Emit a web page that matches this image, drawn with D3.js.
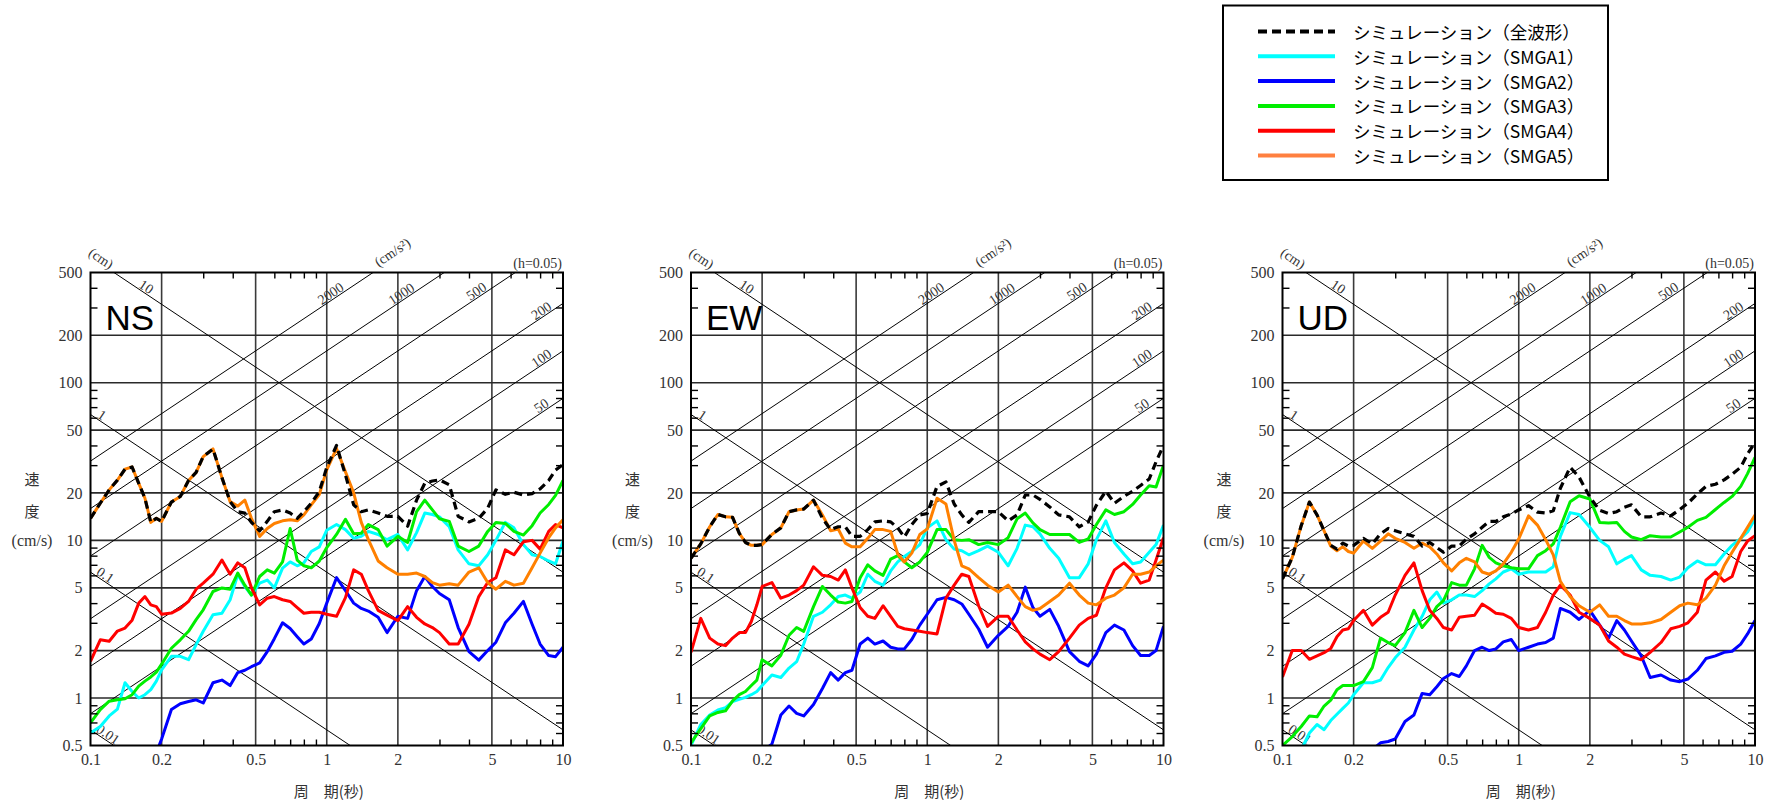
<!DOCTYPE html>
<html><head><meta charset="utf-8">
<script src="https://cdn.jsdelivr.net/npm/d3@7"></script>
<style>body{margin:0;background:#fff;} svg{display:block}</style>
</head><body><svg id="c" width="1773" height="801"></svg>
<script>
// ---------------- DATA ----------------
const periods = [0.10,0.11,0.12,0.13,0.14,0.15,0.16,0.17,0.18,0.19,0.20,
 0.22,0.24,0.26,0.28,0.30,
 0.33,0.36,0.39,0.42,0.45,0.48,
 0.52,0.56,0.60,0.65,0.70,0.75,0.80,0.86,0.93,
 1.0,
 1.1,1.2,1.3,1.4,1.5,
 1.65,1.8,2.0,
 2.2,2.4,2.6,2.8,3.0,
 3.3,3.6,4.0,4.4,4.8,
 5.2,5.7,6.2,6.8,7.4,
 8.0,8.7,9.3,10];

const nsTotal = [13.8,17.2,20.9,24.1,28.3,29.2,23.0,18.5,13.0,13.8,13.2,
 17.5,19.0,24.0,27.0,34.0,
 38.0,25.0,17.6,15.2,14.9,13.0,
 11.5,13.2,15.2,15.6,14.9,13.8,15.2,17.2,20.4,
 29.0,
 40.0,26.0,16.8,15.2,15.6,
 14.9,14.2,14.2,
 12.3,18.0,23.0,23.8,24.2,
 22.5,14.2,13.1,13.8,16.0,
 20.9,19.6,20.2,19.4,19.8,
 21.2,24.0,27.9,30.3];
const nsSMGA1 = [0.60,0.66,0.77,0.85,1.25,1.10,1.00,1.05,1.13,1.28,1.51,
 1.84,1.84,1.75,2.18,2.65,
 3.37,3.45,4.2,6.07,5.1,4.5,
 5.35,5.6,5.0,6.66,7.3,6.9,7.2,8.5,9.1,
 11.6,
 12.6,11.7,10.3,10.6,11.4,
 10.9,10.1,10.9,
 8.7,11.2,14.9,14.6,14.1,
 12.2,8.7,7.1,6.9,8.1,
 10.0,13.0,12.0,9.4,8.1,
 7.9,7.4,7.1,9.9];
const nsSMGA2 = [null,null,null,null,null,null,null,null,null,0.45,0.55,
 0.845,0.92,0.95,0.975,0.93,
 1.25,1.3,1.2,1.45,1.5,1.58,
 1.67,1.97,2.38,3.0,2.76,2.45,2.2,2.37,2.97,
 4.0,
 5.8,4.8,4.0,3.7,3.56,
 3.25,2.6,3.3,
 3.2,4.8,5.9,5.1,4.6,
 4.2,2.8,1.97,1.74,2.0,
 2.26,3.0,3.45,4.1,2.94,
 2.2,1.86,1.83,2.1];
const nsSMGA3 = [0.695,0.845,0.955,0.975,0.99,1.05,1.19,1.28,1.36,1.46,1.64,
 2.07,2.34,2.65,3.14,3.63,
 4.74,4.99,4.9,6.2,5.2,4.5,
 5.9,6.5,6.2,7.3,11.9,7.5,6.9,6.7,7.4,
 9.0,
 10.9,13.6,11.0,11.1,12.6,
 11.7,9.2,10.6,
 9.7,15.2,18.0,15.6,13.7,
 13.2,9.2,8.5,9.2,11.4,
 13.0,12.8,11.4,10.8,12.4,
 14.9,16.9,19.3,24.0];
const nsSMGA4 = [1.71,2.34,2.29,2.66,2.78,3.12,4.0,4.4,3.9,3.8,3.4,
 3.46,3.7,4.1,4.9,5.35,
 6.1,7.5,6.1,7.2,6.7,5.0,
 3.9,4.3,4.4,4.2,4.1,3.75,3.45,3.5,3.5,
 3.4,
 3.3,4.33,6.5,6.1,4.8,
 3.6,3.36,3.1,
 3.8,3.25,2.95,2.8,2.6,
 2.2,2.2,2.94,4.4,5.4,
 5.8,8.7,8.1,9.8,10.0,
 8.8,11.4,12.6,12.0];
const nsSMGA5 = [13.8,17.2,20.9,24.1,28.3,29.2,23.0,18.5,13.0,13.8,13.2,
 17.5,19.0,24.0,27.0,34.0,
 38.0,25.0,17.6,16.5,18.0,13.8,
 10.6,11.9,12.8,13.3,13.5,13.3,14.5,16.8,19.5,
 28.0,
 38.3,27.2,20.0,13.0,10.1,
 7.4,6.7,6.1,
 6.1,6.2,5.9,5.4,5.2,
 5.3,5.2,6.3,6.7,5.4,
 4.9,5.5,5.2,5.35,6.7,
 8.3,10.4,12.0,13.5];

const ewTotal = [7.7,9.5,12.2,14.6,14.1,14.0,11.1,9.7,9.3,9.3,9.4,
 10.9,12.0,15.2,15.6,15.8,
 18.0,13.8,11.7,12.2,12.2,10.6,
 10.6,11.7,13.1,13.3,13.1,12.0,10.5,12.6,14.5,
 14.8,
 22.0,23.5,17.0,14.5,13.0,
 15.2,15.2,15.2,
 13.3,14.5,19.4,19.4,18.2,
 16.3,14.5,14.1,12.2,13.1,
 16.7,20.5,17.2,19.0,20.5,
 22.3,24.5,31.5,40.0];
const ewSMGA1 = [0.50,0.68,0.78,0.84,0.87,0.95,0.98,1.01,1.05,1.10,1.20,
 1.40,1.35,1.55,1.70,2.20,
 3.3,3.5,3.9,4.4,4.5,4.3,
 4.7,6.1,5.5,5.2,6.4,7.3,7.9,8.5,9.4,
 12.0,
 13.3,10.1,8.8,8.6,8.1,
 8.6,9.2,8.4,
 6.9,8.9,12.5,12.2,11.0,
 8.9,7.7,5.8,5.8,7.1,
 10.1,13.3,9.7,8.2,7.1,
 7.3,8.4,9.4,12.5];
const ewSMGA2 = [null,null,null,null,null,null,null,null,null,null,0.46,
 0.51,0.78,0.89,0.80,0.77,
 0.91,1.15,1.45,1.3,1.45,1.5,
 2.2,2.4,2.2,2.3,2.1,2.05,2.05,2.35,2.9,
 3.4,
 4.2,4.35,4.2,3.95,3.4,
 2.74,2.1,2.5,
 2.85,3.5,5.05,3.75,3.3,
 3.65,2.85,1.97,1.71,1.6,
 1.9,2.6,2.9,2.7,2.15,
 1.86,1.86,2.0,2.85];
const ewSMGA3 = [0.52,0.64,0.77,0.81,0.83,0.96,1.05,1.10,1.20,1.30,1.75,
 1.60,1.87,2.50,2.80,2.65,
 3.8,5.1,4.5,4.06,4.0,4.1,
 5.8,7.0,6.4,6.0,7.6,8.0,7.3,6.7,7.3,
 8.4,
 11.7,11.7,10.1,10.0,10.1,
 9.4,9.7,9.4,
 10.4,13.7,14.9,12.9,11.7,
 10.9,10.9,10.9,9.7,10.2,
 12.6,15.6,14.6,15.2,16.9,
 19.4,22.2,21.8,30.0];
const ewSMGA4 = [1.95,3.2,2.4,2.2,2.15,2.4,2.6,2.6,3.06,3.9,5.1,
 5.4,4.3,4.5,4.8,5.2,
 6.8,6.0,5.9,5.6,6.5,5.0,
 3.75,3.3,3.2,3.85,3.3,2.85,2.75,2.7,2.65,
 2.6,
 2.55,4.3,5.2,6.1,5.9,
 3.85,2.85,3.3,
 3.3,2.7,2.27,2.05,1.9,
 1.75,1.97,2.4,2.9,3.2,
 3.35,5.0,6.5,7.2,6.4,
 5.35,5.6,7.5,10.4];
const ewSMGA5 = [7.7,9.5,12.2,14.6,14.1,14.0,11.1,9.7,9.3,9.3,9.4,
 10.9,12.0,15.2,15.6,15.8,
 18.0,14.5,11.5,11.8,9.6,9.1,
 9.1,10.3,11.7,11.7,11.4,8.2,7.3,8.3,10.9,
 11.8,
 18.5,17.0,10.0,6.9,6.6,
 5.8,5.2,4.7,
 5.2,4.4,3.8,3.6,3.7,
 4.1,4.5,5.35,4.5,4.0,
 3.9,4.3,4.5,5.0,6.1,
 6.1,6.3,6.9,7.5];

const udTotal = [5.7,7.8,12.4,17.5,14.5,11.5,9.3,8.8,9.6,9.2,9.3,
 10.3,9.5,11.0,11.9,11.5,
 11.0,10.6,9.2,9.7,9.0,8.4,
 9.2,9.2,10.2,11.0,12.1,13.2,13.2,14.1,14.7,
 15.6,
 16.6,15.1,14.9,15.4,21.4,
 29.1,25.2,18.8,
 15.5,14.8,15.2,16.2,16.8,
 14.1,14.1,14.9,14.3,15.7,
 17.2,19.7,22.0,22.7,24.2,
 26.3,29.1,35.3,41.7];
const udSMGA1 = [null,null,0.47,0.60,0.68,0.63,0.72,0.79,0.86,0.93,1.05,
 1.25,1.25,1.30,1.56,1.80,
 2.1,2.7,3.3,4.2,4.7,4.0,
 4.2,4.5,4.5,4.4,4.8,5.3,5.7,6.3,6.6,
 6.1,
 6.3,6.3,6.3,6.8,10.6,
 15.0,14.6,12.1,
 10.0,9.1,7.1,7.6,8.0,
 6.5,6.0,5.9,5.6,5.85,
 6.7,7.4,7.0,7.0,8.2,
 9.3,10.3,11.3,13.7];
const udSMGA2 = [null,null,null,null,null,null,null,null,null,null,null,
 null,0.47,0.52,0.53,0.55,
 0.71,0.78,1.07,1.05,1.18,1.33,
 1.43,1.37,1.6,2.0,2.1,2.0,2.05,2.27,2.35,
 2.0,
 2.1,2.2,2.25,2.4,3.7,
 3.5,3.15,3.6,
 2.9,2.4,3.1,2.7,2.3,
 1.85,1.35,1.4,1.3,1.27,
 1.32,1.5,1.78,1.85,1.95,
 1.98,2.2,2.55,3.1];
const udSMGA3 = [0.50,0.57,0.66,0.77,0.76,0.89,0.97,1.13,1.20,1.20,1.20,
 1.27,1.56,2.40,2.25,2.15,
 2.6,3.6,2.8,3.2,3.8,4.15,
 5.4,5.2,5.2,6.6,9.3,7.8,7.2,6.9,6.7,
 6.6,
 6.6,8.0,8.6,9.5,12.1,
 17.6,19.2,18.3,
 13.0,12.9,13.0,11.4,10.5,
 10.1,10.7,10.5,10.5,11.3,
 12.1,13.4,14.0,15.7,17.4,
 19.0,22.0,26.5,33.6];
const udSMGA4 = [1.36,2.0,2.0,1.76,1.85,1.94,2.06,2.45,2.7,2.75,3.1,
 3.6,2.9,3.25,3.5,4.5,
 6.0,7.2,4.8,3.6,3.2,2.8,
 2.7,3.25,3.3,3.35,3.95,3.7,3.45,3.4,3.2,
 2.8,
 2.7,2.8,3.5,4.5,5.2,
 4.5,3.5,3.2,
 2.9,2.3,2.1,1.9,1.83,
 1.75,1.95,2.25,2.75,2.85,
 3.0,3.5,5.6,6.3,5.5,
 5.9,8.5,9.9,10.7];
const udSMGA5 = [5.7,7.8,12.4,17.5,14.5,11.5,9.2,8.6,9.1,8.5,8.3,
 9.9,8.9,9.9,11.0,10.3,
 9.7,8.9,9.6,9.1,8.2,7.2,
 6.4,7.2,7.7,7.3,6.3,6.1,6.4,7.1,8.4,
 10.2,
 14.3,12.5,10.1,8.1,5.5,
 4.4,3.85,3.5,
 3.9,3.3,3.3,3.1,2.95,
 2.95,3.0,3.15,3.5,3.85,
 4.0,3.9,4.3,5.2,6.9,
 8.4,10.3,12.1,14.5];

const panelNames = ["NS","EW","UD"];
const seriesNames = ["シミュレーション（全波形）","シミュレーション（SMGA1）","シミュレーション（SMGA2）",
  "シミュレーション（SMGA3）","シミュレーション（SMGA4）","シミュレーション（SMGA5）"];
const xTickValues = [0.1,0.2,0.5,1,2,5,10];
const yTickValues = [0.5,1,2,5,10,20,50,100,200,500];
const xGridValues = [0.2,0.5,1,2,5];
const yGridValues = [1,2,5,10,20,50,100,200];
const xMinorValues = [0.3,0.4,0.6,0.7,0.8,0.9,3,4,6,7,8,9];
const yMinorValues = [0.6,0.7,0.8,0.9,3,4,6,7,8,9,30,40,60,70,80,90,300,400];
const dispLines = [0.01,0.1,1,10];          // cm
const accLines = [50,100,200,500,1000,2000]; // cm/s^2
const dispLabelT = [0.1185,0.1155,0.1118,0.172];
const accLabelT = [8.1,8.1,8.1,4.3,2.07,1.04];

const panelSeries = [
  [nsTotal,nsSMGA1,nsSMGA2,nsSMGA3,nsSMGA4,nsSMGA5],
  [ewTotal,ewSMGA1,ewSMGA2,ewSMGA3,ewSMGA4,ewSMGA5],
  [udTotal,udSMGA1,udSMGA2,udSMGA3,udSMGA4,udSMGA5]
];

// ---------------- STYLE / LAYOUT ----------------
const colors = ["#000000","#00ffff","#0000ff","#00ee00","#ff0000","#ff8000"];
const legendColors = ["#000000","#00ffff","#0000ff","#00ee00","#ff0000","#ff8040"];
const panelLeft = [90.5, 691, 1282.5];
const plotW = 472.5, plotTop = 272.5, plotH = 473;
const serif = "'Liberation Serif','DejaVu Serif',serif";
const jp = "'Noto Sans CJK JP','Noto Sans',sans-serif";
const ang = Math.atan((plotH/3)/(plotW/2)) * 180/Math.PI;

const svg = d3.select("#c");

panelNames.forEach((pname, i) => {
  const L = panelLeft[i], R = L + plotW, T = plotTop, B = plotTop + plotH;
  const x = d3.scaleLog().domain([0.1,10]).range([L,R]);
  const y = d3.scaleLog().domain([0.5,500]).range([B,T]);
  const g = svg.append("g");
  const clipId = "clip" + i;
  g.append("clipPath").attr("id", clipId).append("rect")
    .attr("x", L).attr("y", T).attr("width", plotW).attr("height", plotH);

  // grid lines
  g.append("g").selectAll("line").data(xGridValues).join("line")
    .attr("x1", d => x(d)).attr("x2", d => x(d)).attr("y1", T).attr("y2", B)
    .attr("stroke", "#3a3a3a").attr("stroke-width", 1.6);
  g.append("g").selectAll("line").data(yGridValues).join("line")
    .attr("y1", d => y(d)).attr("y2", d => y(d)).attr("x1", L).attr("x2", R)
    .attr("stroke", "#2a2a2a").attr("stroke-width", 1.6);

  // tripartite diagonal lines
  const dg = g.append("g").attr("clip-path", `url(#${clipId})`);
  dispLines.forEach(D => {
    dg.append("line")
      .attr("x1", x(0.1)).attr("y1", y(2*Math.PI*D/0.1))
      .attr("x2", x(10)).attr("y2", y(2*Math.PI*D/10))
      .attr("stroke", "#000").attr("stroke-width", 1);
  });
  accLines.forEach(A => {
    dg.append("line")
      .attr("x1", x(0.1)).attr("y1", y(A*0.1/(2*Math.PI)))
      .attr("x2", x(10)).attr("y2", y(A*10/(2*Math.PI)))
      .attr("stroke", "#000").attr("stroke-width", 1);
  });

  // labels on diagonal lines
  const lblStyle = s => s.attr("font-family", serif).attr("font-size", 14).attr("fill", "#333")
      .attr("text-anchor", "middle").attr("dominant-baseline", "central");
  dispLines.forEach((D, k) => {
    const t = dispLabelT[k];
    const px = x(t), py = y(2*Math.PI*D/t) - 7;
    g.append("text").call(lblStyle).attr("transform", `translate(${px},${py}) rotate(${ang})`).text(String(D));
  });
  accLines.forEach((A, k) => {
    const t = accLabelT[k];
    const px = x(t), py = y(A*t/(2*Math.PI)) - 7;
    g.append("text").call(lblStyle).attr("transform", `translate(${px},${py}) rotate(${-ang})`).text(String(A));
  });
  g.append("text").call(lblStyle).attr("transform", `translate(${L+10.5},${T-14}) rotate(${ang})`).text("(cm)");
  g.append("text").call(lblStyle).attr("transform", `translate(${L+302},${T-20}) rotate(${-ang})`).text("(cm/s²)");
  g.append("text").attr("font-family", serif).attr("font-size", 14).attr("fill", "#333")
    .attr("text-anchor", "end").attr("x", R - 1).attr("y", T - 9).attr("dominant-baseline", "central").text("(h=0.05)");

  // series lines
  const line = d3.line()
    .defined(d => d.v != null)
    .x(d => x(d.t)).y(d => y(d.v));
  const order = [1,2,3,4,5,0];
  const sg = g.append("g").attr("clip-path", `url(#${clipId})`);
  order.forEach(k => {
    const vals = panelSeries[i][k];
    const data = periods.map((t, j) => ({t, v: vals[j]}));
    const p = sg.append("path").datum(data).attr("d", line)
      .attr("fill", "none").attr("stroke", colors[k]).attr("stroke-width", k === 0 ? 3.2 : 3)
      .attr("stroke-linejoin", "round");
    if (k === 0) p.attr("stroke-dasharray", "8,5");
  });

  // minor ticks (inward) on four sides
  const minor = (axis, tr) => {
    const a = g.append("g").attr("transform", tr).call(axis);
    a.select(".domain").remove();
    a.selectAll("line").attr("stroke", "#000").attr("stroke-width", 1.4);
    a.selectAll("text").remove();
  };
  minor(d3.axisBottom(x).tickValues(xMinorValues).tickSize(-6).tickFormat(""), `translate(0,${B})`);
  minor(d3.axisTop(x).tickValues(xMinorValues).tickSize(-6).tickFormat(""), `translate(0,${T})`);
  minor(d3.axisLeft(y).tickValues(yMinorValues).tickSize(-7).tickFormat(""), `translate(${L},0)`);
  minor(d3.axisRight(y).tickValues(yMinorValues).tickSize(-7).tickFormat(""), `translate(${R},0)`);

  // frame
  g.append("rect").attr("x", L).attr("y", T).attr("width", plotW).attr("height", plotH)
    .attr("fill", "none").attr("stroke", "#000").attr("stroke-width", 2);

  // tick labels
  const xa = g.append("g").attr("transform", `translate(0,${B})`)
    .call(d3.axisBottom(x).tickValues(xTickValues).tickSize(0).tickFormat(d => String(d)));
  xa.select(".domain").remove();
  xa.selectAll("text").attr("y", 14).attr("dy", "0.35em")
    .attr("font-family", serif).attr("font-size", 16).attr("fill", "#333");
  const ya = g.append("g").attr("transform", `translate(${L},0)`)
    .call(d3.axisLeft(y).tickValues(yTickValues).tickSize(0).tickPadding(8).tickFormat(d => String(d)));
  ya.select(".domain").remove();
  ya.selectAll("text").attr("font-family", serif).attr("font-size", 16).attr("fill", "#333");

  // axis titles
  const yt = L - 58.5;
  g.append("text").attr("x", yt).attr("y", 478).attr("text-anchor", "middle").attr("dominant-baseline", "central")
    .attr("font-family", jp).attr("font-size", 15).attr("fill", "#333").text("速");
  g.append("text").attr("x", yt).attr("y", 510).attr("text-anchor", "middle").attr("dominant-baseline", "central")
    .attr("font-family", jp).attr("font-size", 15).attr("fill", "#333").text("度");
  g.append("text").attr("x", yt).attr("y", 540).attr("text-anchor", "middle").attr("dominant-baseline", "central")
    .attr("font-family", serif).attr("font-size", 16).attr("fill", "#333").text("(cm/s)");
  g.append("text").attr("x", (L+R)/2 + 2).attr("y", 790).attr("text-anchor", "middle").attr("dominant-baseline", "central")
    .attr("font-family", jp).attr("font-size", 15).attr("fill", "#333").text("周　期(秒)");

  // panel name
  g.append("text").attr("x", L + 15).attr("y", T + 57).attr("font-family", "'Liberation Sans',Arial,sans-serif")
    .attr("font-size", 35).attr("fill", "#000").text(pname);
});

// ---------------- LEGEND ----------------
const lg = svg.append("g");
lg.append("rect").attr("x", 1223).attr("y", 5.5).attr("width", 385).attr("height", 174.5)
  .attr("fill", "#fff").attr("stroke", "#000").attr("stroke-width", 2);
const rowY = d3.scaleLinear().domain([0,5]).range([31.5,155.5]);
seriesNames.forEach((name, k) => {
  const yy = rowY(k);
  const ln = lg.append("line").attr("x1", 1258).attr("x2", 1335).attr("y1", yy).attr("y2", yy)
    .attr("stroke", legendColors[k]).attr("stroke-width", 4);
  if (k === 0) ln.attr("stroke-dasharray", "9,5");
  lg.append("text").attr("x", 1353).attr("y", yy).attr("dominant-baseline", "central")
    .attr("font-family", jp).attr("font-size", 17.5).attr("fill", "#000").text(name);
});
</script>
</body></html>
